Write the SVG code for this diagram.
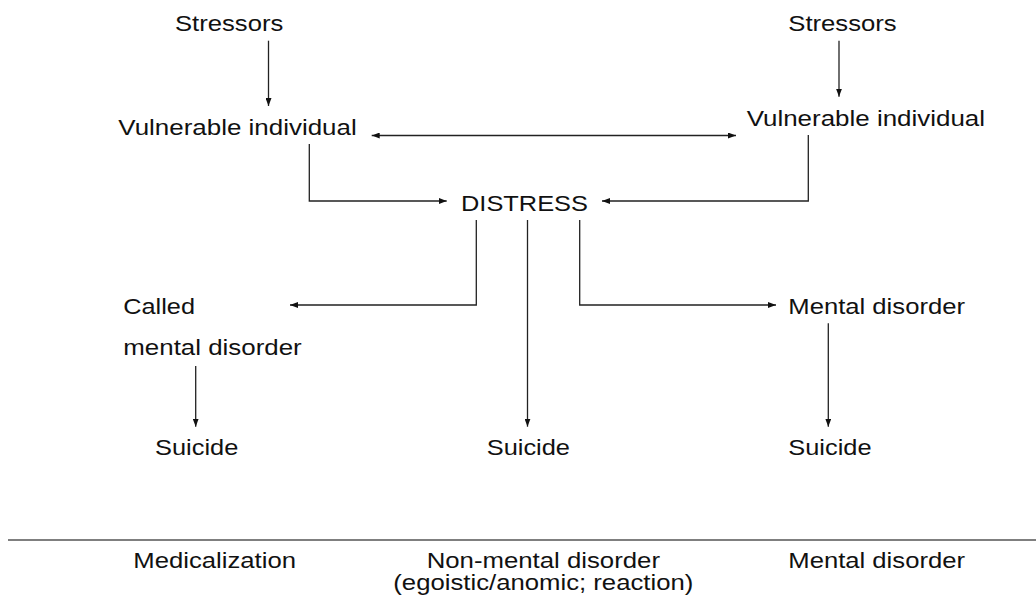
<svg xmlns="http://www.w3.org/2000/svg" width="1036" height="600" viewBox="0 0 1036 600">
<defs>
<marker id="ah" viewBox="0 0 8 6" refX="8" refY="3" markerWidth="8" markerHeight="6" markerUnits="userSpaceOnUse" orient="auto-start-reverse">
<path d="M0,0 L8,3 L0,6 z" fill="#111"/>
</marker>
<style>
text{font-family:"Liberation Sans",Arial,sans-serif;font-size:22px;fill:#111}
.c{fill:none;stroke:#222;stroke-width:1.3}
.a{marker-end:url(#ah)}
.sep{stroke:#555;stroke-width:1.5}
</style>
</defs>
<rect width="1036" height="600" fill="#fff"/>
<g id="connectors">
<path class="c a" d="M268.5,40.7 V106"/>
<path class="c a" d="M839,40.7 V96.7"/>
<path class="c a" d="M371.7,135.5 H736" style="marker-start:url(#ah)"/>
<path class="c a" d="M309.3,144 V201 H446.7"/>
<path class="c a" d="M808.3,135 V201 H602"/>
<path class="c a" d="M476.3,220 V305 H290"/>
<path class="c a" d="M527.5,220 V426.7"/>
<path class="c a" d="M579.7,220 V305 H776"/>
<path class="c a" d="M195.7,366 V426.7"/>
<path class="c a" d="M828.3,323.3 V426.7"/>
</g>
<g id="n-stressors-left"><text x="175" y="31" textLength="108.3" lengthAdjust="spacingAndGlyphs">Stressors</text></g>
<g id="n-stressors-right"><text x="788.3" y="31" textLength="108.4" lengthAdjust="spacingAndGlyphs">Stressors</text></g>
<g id="n-vulnerable-left"><text x="118.3" y="135" textLength="238.4" lengthAdjust="spacingAndGlyphs">Vulnerable individual</text></g>
<g id="n-vulnerable-right"><text x="746.7" y="126" textLength="238.3" lengthAdjust="spacingAndGlyphs">Vulnerable individual</text></g>
<g id="n-distress"><text x="461" y="210.5" textLength="127" lengthAdjust="spacingAndGlyphs">DISTRESS</text></g>
<g id="n-called"><text x="123.3" y="313.5" textLength="71.7" lengthAdjust="spacingAndGlyphs">Called</text><text x="123.3" y="355" textLength="178.4" lengthAdjust="spacingAndGlyphs">mental disorder</text></g>
<g id="n-mental"><text x="788.3" y="314" textLength="176.7" lengthAdjust="spacingAndGlyphs">Mental disorder</text></g>
<g id="n-suicide-left"><text x="155" y="455" textLength="83.3" lengthAdjust="spacingAndGlyphs">Suicide</text></g>
<g id="n-suicide-mid"><text x="486.7" y="455" textLength="83.3" lengthAdjust="spacingAndGlyphs">Suicide</text></g>
<g id="n-suicide-right"><text x="788.3" y="455" textLength="83.3" lengthAdjust="spacingAndGlyphs">Suicide</text></g>
<g id="legend">
<line class="sep" x1="8" y1="540" x2="1036" y2="540"/>
<text x="133.3" y="568.3" textLength="162.7" lengthAdjust="spacingAndGlyphs">Medicalization</text>
<text x="426.7" y="568" textLength="233.3" lengthAdjust="spacingAndGlyphs">Non-mental disorder</text>
<text x="393.3" y="590" textLength="300" lengthAdjust="spacingAndGlyphs">(egoistic/anomic; reaction)</text>
<text x="788.3" y="568.3" textLength="176.7" lengthAdjust="spacingAndGlyphs">Mental disorder</text>
</g>
</svg>
